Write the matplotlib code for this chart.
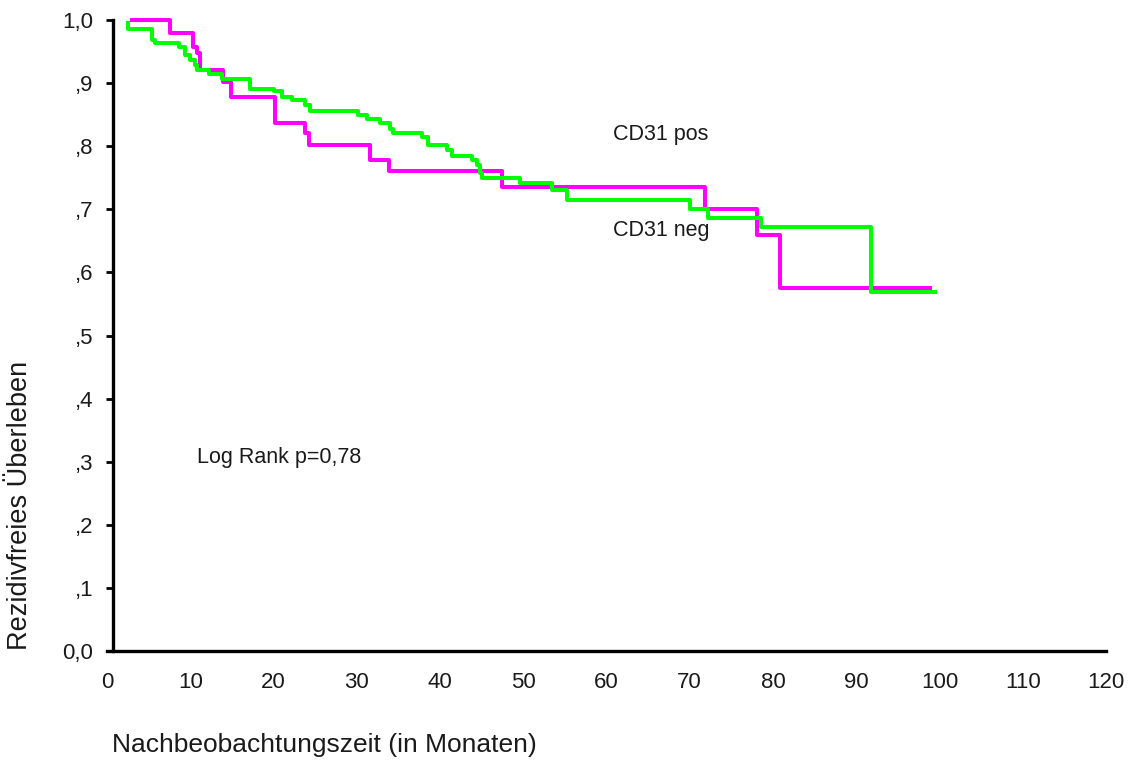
import matplotlib.pyplot as plt

# Kaplan-Meier Stufen (Zeit in Monaten, Ueberlebensanteil nach der Stufe)
zeit_pos = [3.0, 7.6, 10.3, 10.8, 11.2, 13.9, 14.9, 20.2, 23.8, 24.3, 31.6, 33.9,
            47.4, 71.8, 78.1, 80.8, 98.8]
surv_pos = [1.0, 0.980, 0.958, 0.947, 0.921, 0.902, 0.878, 0.837, 0.821, 0.802,
            0.778, 0.760, 0.736, 0.700, 0.659, 0.576, 0.576]

zeit_neg = [2.5, 2.5, 5.4, 5.8, 8.6, 9.4, 10.0, 10.6, 10.8, 12.2, 13.8, 17.2, 20.0,
            21.0, 22.2, 23.8, 24.4, 30.2, 31.2, 32.8, 34.0, 34.4, 37.8, 38.6, 40.8,
            41.4, 43.8, 44.4, 44.8, 45.0, 49.6, 53.4, 55.3, 70.0, 72.2, 78.6, 91.8, 99.4]
surv_neg = [0.995, 0.986, 0.968, 0.964, 0.958, 0.944, 0.937, 0.929, 0.921, 0.915, 0.907,
            0.891, 0.887, 0.878, 0.873, 0.865, 0.856, 0.849, 0.843, 0.836, 0.828, 0.821,
            0.814, 0.802, 0.794, 0.784, 0.778, 0.770, 0.757, 0.749, 0.742, 0.731, 0.714,
            0.700, 0.687, 0.672, 0.569, 0.569]

x_ticks = list(range(0, 121, 10))
y_ticks = [0.0, 0.1, 0.2, 0.3, 0.4, 0.5, 0.6, 0.7, 0.8, 0.9, 1.0]
y_labels = ['0,0', ',1', ',2', ',3', ',4', ',5', ',6', ',7', ',8', ',9', '1,0']

plt.rcParams['font.family'] = ['Liberation Sans', 'DejaVu Sans']
txt = '#1a1a1a'

fig = plt.figure(figsize=(11.28, 7.6), dpi=100)
ax = fig.add_axes([107 / 1128, 109 / 760, 999 / 1128, 631 / 760])

ax.step(zeit_pos, surv_pos, where='post', color='#ff00ff', lw=2.9, clip_on=False)
ax.step(zeit_neg, surv_neg, where='post', color='#00ff00', lw=2.9, clip_on=False)

ax.set_xlim(0, 120)
ax.set_ylim(0, 1.0)
ax.set_xticks(x_ticks)
ax.set_yticks(y_ticks)
ax.set_yticklabels(y_labels)

for s in ['top', 'right']:
    ax.spines[s].set_visible(False)
ax.spines['left'].set_position(('data', 0.7))
ax.spines['left'].set_linewidth(2.4)
ax.spines['bottom'].set_linewidth(2.4)
ax.tick_params(axis='x', length=0, pad=15, labelsize=16, labelcolor=txt)
ax.tick_params(axis='y', length=5, width=2, pad=9, labelsize=16, labelcolor=txt)

ax.text(60.8, 0.818, 'CD31 pos', fontsize=15.5, color=txt, va='center')
ax.text(60.8, 0.667, 'CD31 neg', fontsize=15.5, color=txt, va='center')
ax.text(10.8, 0.306, 'Log Rank p=0,78', fontsize=15.5, color=txt, va='center')

fig.text(20 / 1128, 110 / 760, 'Rezidivfreies Überleben', rotation=90,
         ha='center', va='bottom', fontsize=19.5, color=txt)
fig.text(112 / 1128, 1 - 745 / 760, 'Nachbeobachtungszeit (in Monaten)',
         ha='left', va='center', fontsize=19, color=txt)

fig.savefig('out.png', dpi=100, facecolor='white')
